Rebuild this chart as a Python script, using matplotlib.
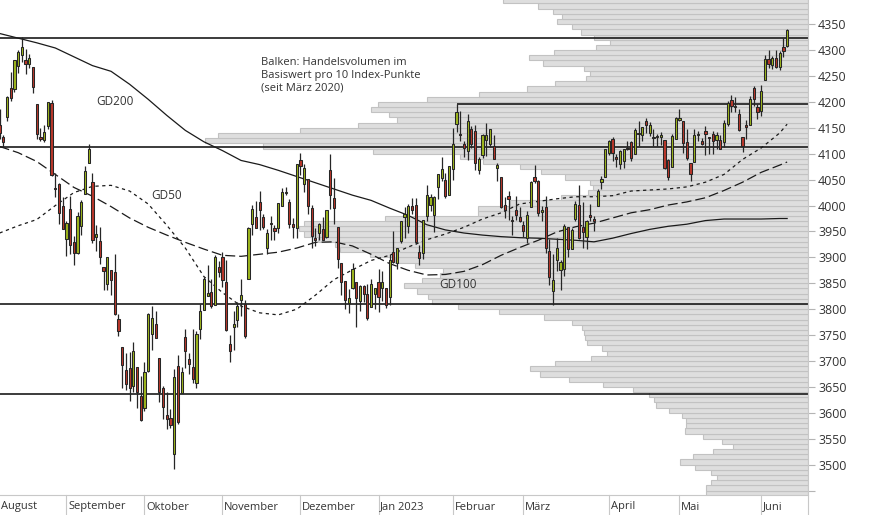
import numpy as np
import pandas as pd
import matplotlib
matplotlib.use("Agg")
import matplotlib.pyplot as plt
from matplotlib.lines import Line2D
from matplotlib.transforms import blended_transform_factory

plt.rcParams["font.family"] = ["Open Sans", "DejaVu Sans"]

# trading days 8 Aug 2022 .. 12 Jun 2023 (US market holidays removed)
holidays = ["2022-09-05", "2022-11-24", "2022-12-26", "2023-01-02",
            "2023-01-16", "2023-02-20", "2023-04-07", "2023-05-29"]
dates = pd.bdate_range("2022-08-08", "2023-06-12")
dates = dates[~dates.isin(pd.to_datetime(holidays))]

# daily candles (index points)
open_ = [4156, 4133, 4171, 4227, 4225, 4270, 4290, 4280, 4273, 4267, 4195, 4133, 4126, 4154, 4198, 4034, 4041, 4000,
         3936, 3994, 3930, 3909, 3960, 4022, 4083, 4045, 3940, 3932, 3881, 3849, 3876, 3871, 3782, 3727, 3682, 3686, 3651, 3688, 3633,
         3609, 3680, 3753, 3771, 3706, 3647, 3595, 3591, 3520, 3690, 3638, 3746, 3703, 3689, 3658, 3762, 3799, 3825, 3834, 3808, 3881,
         3901, 3853, 3733, 3766, 3780, 3817, 3810, 3859, 3964, 3978, 4006, 3977, 3919, 3966, 3956, 3956, 4000, 4024, 4006, 3964, 3957,
         4087, 4041, 4052, 3996, 3937, 3947, 3954, 3940, 4069, 4015, 3958, 3890, 3854, 3811, 3840, 3853, 3816, 3844, 3829, 3805, 3829,
         3853, 3840, 3840, 3823, 3910, 3889, 3932, 3977, 3960, 3999, 4002, 3911, 3909, 3979, 4001, 3982, 4036, 4053, 4050, 4021,
         4070, 4158, 4137, 4119, 4105, 4147, 4144, 4068, 4097, 4127, 4119, 4114, 4073, 4056, 4001, 4018, 3973, 3992, 3977,
         3963, 3938, 3998, 4055, 4048, 3987, 3998, 3912, 3835, 3894, 3876, 3878, 3959, 3917, 3975, 4002, 3959, 3939, 3982, 3974, 3999, 4046, 4056,
         4102, 4128, 4094, 4081, 4085, 4111, 4122, 4100, 4140, 4137, 4164, 4140, 4131, 4132, 4132, 4127, 4087, 4075, 4129,
         4166, 4164, 4122, 4082, 4084, 4136, 4124, 4143, 4132, 4138, 4127, 4127, 4122, 4157, 4204, 4191, 4176, 4133, 4155, 4156, 4226, 4191,
         4183, 4242, 4282, 4271, 4285, 4268, 4305, 4308]
high = [4187, 4137, 4211, 4257, 4280, 4301, 4325, 4302, 4293, 4267, 4196, 4150, 4156, 4200, 4203, 4063, 4044, 4016,
        3970, 4018, 3942, 3987, 4010, 4076, 4119, 4062, 3962, 3959, 3881, 3900, 3876, 3907, 3790, 3727, 3715, 3717, 3736, 3688, 3671,
        3698, 3792, 3807, 3797, 3706, 3652, 3641, 3608, 3685, 3712, 3689, 3762, 3716, 3762, 3757, 3810, 3862, 3886, 3859, 3905, 3893,
        3911, 3894, 3750, 3796, 3814, 3859, 3818, 3958, 4001, 4009, 4028, 3983, 3954, 3979, 3962, 4004, 4033, 4035, 4013, 3976, 4080,
        4101, 4080, 4052, 4001, 3956, 3966, 3977, 3990, 4100, 4053, 3958, 3890, 3854, 3839, 3889, 3853, 3846, 3846, 3848, 3858, 3839,
        3878, 3873, 3840, 3906, 3951, 3919, 3970, 3997, 4003, 4015, 4015, 3923, 3972, 4039, 4023, 4019, 4061, 4094, 4063, 4077,
        4149, 4195, 4183, 4124, 4176, 4154, 4156, 4094, 4138, 4159, 4148, 4136, 4082, 4056, 4017, 4029, 3979, 4018, 3997,
        3971, 3990, 4048, 4078, 4050, 4000, 4018, 3935, 3906, 3937, 3894, 3964, 3959, 3957, 4009, 4039, 4007, 3972, 4003, 3979, 4031, 4057, 4110,
        4127, 4133, 4100, 4107, 4110, 4124, 4124, 4150, 4164, 4152, 4169, 4162, 4148, 4138, 4142, 4127, 4089, 4138, 4170,
        4186, 4164, 4148, 4083, 4147, 4143, 4131, 4154, 4133, 4143, 4141, 4136, 4166, 4202, 4213, 4209, 4186, 4133, 4165, 4212, 4231, 4195,
        4232, 4291, 4300, 4288, 4300, 4298, 4323, 4340]
low = [4129, 4112, 4164, 4201, 4219, 4256, 4277, 4253, 4265, 4218, 4129, 4124, 4122, 4147, 4057, 4017, 3965, 3955,
       3903, 3907, 3886, 3906, 3944, 4022, 4083, 3928, 3912, 3888, 3837, 3838, 3827, 3789, 3749, 3648, 3645, 3623, 3640, 3610, 3584,
       3604, 3678, 3722, 3744, 3620, 3588, 3569, 3570, 3491, 3579, 3638, 3687, 3675, 3657, 3647, 3742, 3799, 3825, 3803, 3808, 3863,
       3843, 3758, 3698, 3722, 3766, 3787, 3745, 3859, 3944, 3956, 3953, 3954, 3906, 3933, 3933, 3947, 3999, 4020, 3956, 3938, 3938,
       4058, 4027, 3984, 3919, 3922, 3933, 3934, 3937, 3994, 3965, 3880, 3827, 3800, 3792, 3839, 3765, 3797, 3814, 3780, 3805, 3800,
       3794, 3815, 3802, 3809, 3890, 3878, 3928, 3937, 3947, 3984, 3926, 3885, 3897, 3971, 3989, 3949, 4013, 4048, 4015, 4021,
       4050, 4141, 4124, 4094, 4088, 4111, 4069, 4061, 4092, 4096, 4113, 4090, 4048, 3995, 3976, 3972, 3943, 3973, 3968,
       3939, 3928, 3998, 4044, 3980, 3970, 3908, 3847, 3809, 3874, 3838, 3864, 3901, 3916, 3971, 3936, 3919, 3917, 3971, 3951, 3999, 4032, 4056,
       4098, 4086, 4074, 4070, 4073, 4107, 4086, 4100, 4114, 4124, 4140, 4134, 4114, 4114, 4117, 4071, 4049, 4075, 4128,
       4164, 4101, 4088, 4048, 4084, 4124, 4116, 4098, 4099, 4099, 4110, 4109, 4113, 4154, 4180, 4180, 4143, 4103, 4129, 4156, 4192, 4167,
       4172, 4242, 4266, 4263, 4265, 4261, 4287, 4305]
close = [4140, 4122, 4210, 4207, 4280, 4297, 4305, 4274, 4284, 4228, 4138, 4129, 4141, 4199, 4058, 4031, 3986, 3955,
         3967, 3924, 3908, 3980, 4006, 4067, 4110, 3933, 3946, 3901, 3873, 3900, 3856, 3790, 3758, 3693, 3655, 3647, 3719, 3640, 3586,
         3678, 3791, 3783, 3745, 3640, 3612, 3589, 3577, 3670, 3583, 3678, 3720, 3695, 3666, 3753, 3797, 3859, 3831, 3807, 3901, 3872,
         3856, 3760, 3720, 3771, 3807, 3828, 3749, 3956, 3993, 3957, 3992, 3959, 3947, 3965, 3950, 4004, 4027, 4026, 3964, 3958, 4080,
         4077, 4072, 3999, 3941, 3934, 3964, 3934, 3991, 4020, 3995, 3896, 3852, 3818, 3822, 3878, 3822, 3845, 3829, 3783, 3849, 3840,
         3824, 3853, 3808, 3895, 3892, 3919, 3970, 3983, 3999, 3991, 3929, 3899, 3973, 4020, 4017, 4016, 4060, 4071, 4018, 4077,
         4119, 4180, 4136, 4111, 4164, 4118, 4082, 4090, 4137, 4136, 4148, 4090, 4079, 3997, 3991, 4012, 3970, 3982, 3970,
         3951, 3981, 4046, 4048, 3986, 3992, 3918, 3862, 3856, 3919, 3892, 3960, 3917, 3952, 4003, 3937, 3949, 3971, 3978, 3971, 4028, 4051, 4109,
         4125, 4101, 4090, 4105, 4109, 4109, 4092, 4146, 4138, 4151, 4155, 4155, 4130, 4134, 4137, 4072, 4056, 4135, 4169,
         4168, 4120, 4091, 4061, 4136, 4138, 4119, 4138, 4131, 4124, 4136, 4110, 4159, 4198, 4192, 4193, 4146, 4115, 4151, 4205, 4206, 4180,
         4221, 4282, 4274, 4284, 4268, 4294, 4299, 4339]

# moving averages, read every 5 trading days
ma_idx = [0, 5, 10, 15, 20, 25, 30, 35, 40, 45, 50, 55, 60, 65, 70, 75, 80, 85, 90, 95, 100, 105,
          110, 115, 120, 125, 130, 135, 140, 145, 150, 155, 160, 165, 170, 175, 180, 185, 190, 195, 200, 205, 210, 212]
gd200 = [4332, 4323, 4314, 4304, 4287, 4270, 4259, 4234, 4205, 4174, 4145, 4123, 4106, 4087, 4079, 4068, 4056, 4044,
         4032, 4020, 4010, 3995, 3981, 3963, 3953, 3947, 3943, 3940, 3938, 3937, 3935, 3933, 3930, 3937, 3946, 3954,
         3960, 3964, 3971, 3974, 3974, 3974, 3975, 3975]
gd100 = [4114, 4102, 4085, 4060, 4035, 4018, 3998, 3976, 3958, 3943, 3929, 3916, 3904, 3902, 3906, 3910, 3918, 3929,
         3930, 3922, 3906, 3888, 3875, 3866, 3867, 3873, 3886, 3904, 3919, 3933, 3949, 3959, 3966, 3976, 3986, 3992,
         4001, 4007, 4015, 4029, 4045, 4064, 4078, 4084]
gd50 = [3947, 3961, 3973, 4000, 4025, 4037, 4039, 4028, 4003, 3962, 3918, 3863, 3832, 3806, 3793, 3789, 3800, 3827,
        3857, 3876, 3894, 3904, 3920, 3934, 3945, 3958, 3974, 3986, 4003, 4008, 4013, 4017, 4017, 4019, 4028, 4030,
        4032, 4036, 4045, 4060, 4089, 4111, 4140, 4157]

# volume profile: relative traded volume per 10-point bin (bin lower edges)
vol_bins = np.arange(3440, 4400, 10)
vol_profile = [102, 102, 97, 91, 97, 113, 128, 115, 95, 75,
               86, 105, 123, 122, 122, 126, 139, 152, 154, 159,
               175, 205, 239, 268, 278, 253, 217, 201, 206, 221,
               223, 224, 226, 236, 264, 309, 350, 376, 380, 391,
               404, 386, 368, 365, 393, 413, 438, 468, 473, 490,
               504, 509, 504, 423, 330, 330, 298, 247, 220, 215,
               218, 243, 267, 288, 325, 348, 435, 545, 603, 590,
               508, 450, 411, 419, 437, 430, 381, 329, 281, 253,
               222, 218, 224, 265, 279, 254, 212, 198, 214, 227,
               236, 251, 246, 255, 270, 305]
vol_axis_max = 808

# horizontal support / resistance lines
levels = [4324, 4112, 3810, 3636]
feb_high = 4195
feb_high_start = 123

month_labels = ["August", "September", "Oktober", "November", "Dezember", "Jan 2023",
                "Februar", "März", "April", "Mai", "Juni"]

open_ = np.array(open_, float)
high = np.array(high, float)
low = np.array(low, float)
close = np.array(close, float)
x = np.arange(len(close))

months = dates.to_period("M")
month_starts = [0] + [i for i in range(1, len(dates)) if months[i] != months[i - 1]]

fig = plt.figure(figsize=(8.74, 5.15), dpi=100)
ax = fig.add_axes([0, 20 / 515, 808.3 / 874, 495 / 515])
ax_v = ax.twiny()
ax.set_zorder(ax_v.get_zorder() + 1)
ax.patch.set_visible(False)

# volume bars from the right edge
ax_v.barh(vol_bins + 5, vol_profile, height=10, color="#dedede", edgecolor="#c2c2c2", linewidth=0.8)
ax_v.set_xlim(vol_axis_max, 0)
ax_v.axis("off")

# levels
for lv in levels:
    ax.axhline(lv, color="#1a1a1a", linewidth=1.2, zorder=1)
ax.hlines(feb_high, feb_high_start, 300, color="#1a1a1a", linewidth=1.2, zorder=1)

# moving averages
ax.plot(ma_idx, gd200, color="#1a1a1a", linewidth=0.9, zorder=2)
ax.plot(ma_idx, gd100, color="#1a1a1a", linewidth=0.9, linestyle=(0, (8, 3.2)), zorder=2)
ax.plot(ma_idx, gd50, color="#1a1a1a", linewidth=0.9, linestyle=(0, (2.6, 2.8)), zorder=2)

# candles
up = close >= open_
body = np.maximum(np.abs(close - open_), 1.5)
ax.vlines(x, low, high, color="#262626", linewidth=0.9, zorder=3)
ax.bar(x[up], body[up], bottom=open_[up], width=0.6, color="#9db51d",
       edgecolor="#262626", linewidth=0.75, zorder=4)
ax.bar(x[~up], body[~up], bottom=close[~up], width=0.6, color="#b8372b",
       edgecolor="#262626", linewidth=0.75, zorder=4)

# labels
txt_kw = dict(fontsize=8.5, color="#333333")
ax.text(26.1, 4200, "GD200", va="center", **txt_kw)
ax.text(40.9, 4020, "GD50", va="center", **txt_kw)
ax.text(118.3, 3847, "GD100", va="center", **txt_kw)
ax.text(70.4, 4286, "Balken: Handelsvolumen im\nBasiswert pro 10 Index-Punkte\n(seit März 2020)",
        va="top", ha="left", fontsize=8, color="#333333", linespacing=1.2)

ax.set_xlim(0.108, 217.7)
ax.set_ylim(3441.5, 4396.6)

ax.yaxis.tick_right()
ax.set_yticks(np.arange(3450, 4351, 50))
ax.set_yticklabels([""] + [str(v) for v in range(3500, 4351, 50)])
ax.tick_params(axis="y", direction="out", length=5, width=0.8, color="#b4b4b4",
               labelsize=9, labelcolor="#333333", pad=2)
ax.set_xticks([])
for side in ["top", "left", "right"]:
    ax.spines[side].set_visible(False)
ax.spines["bottom"].set_color("#c8c8c8")
ax.spines["bottom"].set_linewidth(0.8)

fig.add_artist(Line2D([808.3 / 874] * 2, [0, 1], color="#c8c8c8", linewidth=0.8))

trans = blended_transform_factory(ax.transData, ax.transAxes)
for k, idx in enumerate(month_starts):
    if k > 0:
        ax.plot([idx, idx], [0, -20 / 495], transform=trans, clip_on=False,
                color="#c8c8c8", linewidth=0.8)
    ax.text(idx + 0.5, -12 / 495, month_labels[k], transform=trans, ha="left", va="center",
            fontsize=8, color="#333333")

fig.savefig("out.png", dpi=100)
